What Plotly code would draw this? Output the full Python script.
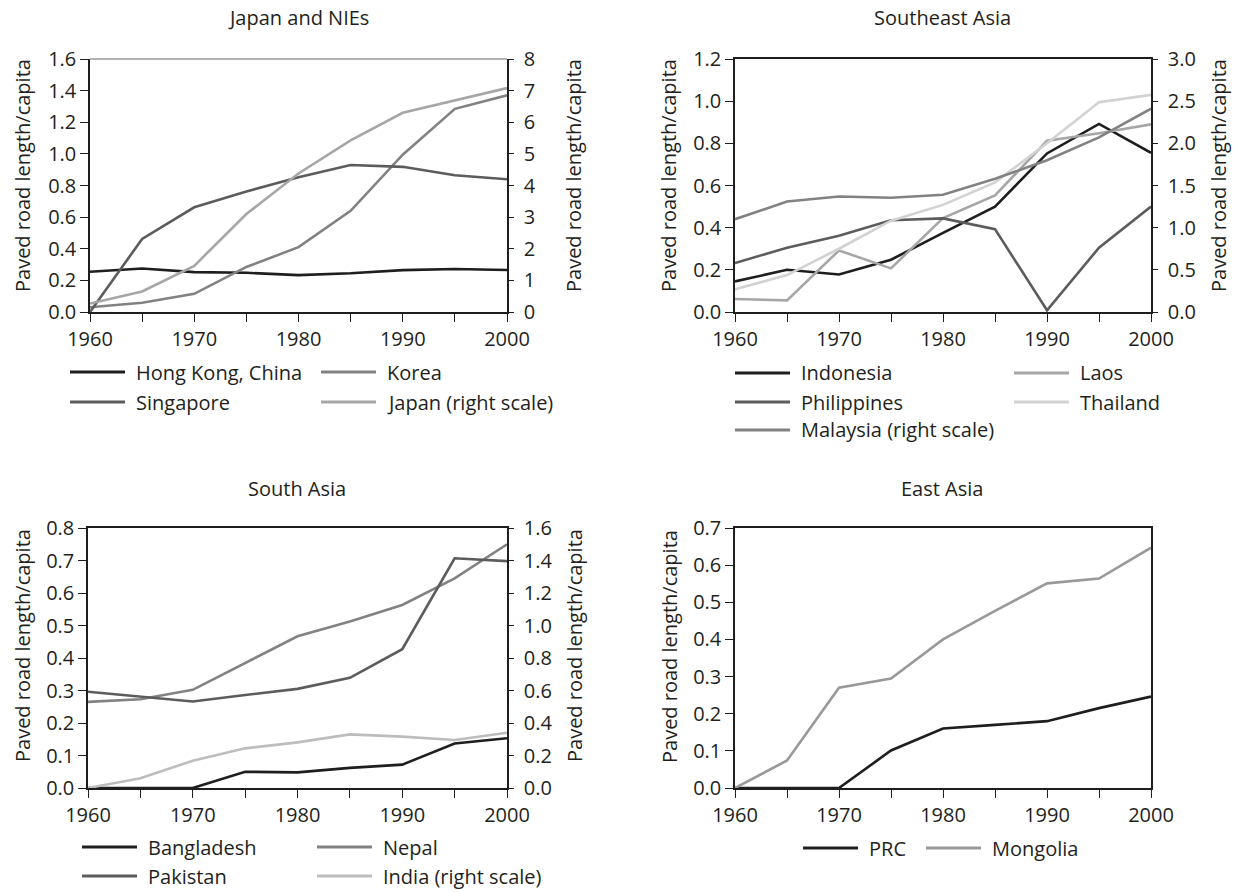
import plotly.graph_objects as go

years = [1960, 1965, 1970, 1975, 1980, 1985, 1990, 1995, 2000]
x_tickvals = [1960, 1965, 1970, 1975, 1980, 1985, 1990, 1995, 2000]
x_ticktext = ["1960", "", "1970", "", "1980", "", "1990", "", "2000"]

# Japan and NIEs
hong_kong = [0.255, 0.275, 0.252, 0.248, 0.233, 0.245, 0.265, 0.272, 0.266]
korea = [0.03, 0.058, 0.115, 0.285, 0.41, 0.64, 0.995, 1.285, 1.37]
singapore = [0.0, 0.462, 0.662, 0.762, 0.852, 0.93, 0.918, 0.865, 0.84]
japan = [0.27, 0.65, 1.46, 3.1, 4.38, 5.43, 6.3, 6.68, 7.08]

# Southeast Asia
indonesia = [0.145, 0.2, 0.178, 0.248, 0.375, 0.5, 0.752, 0.892, 0.755]
philippines = [0.232, 0.305, 0.362, 0.435, 0.444, 0.393, 0.008, 0.305, 0.5]
malaysia = [1.1, 1.31, 1.37, 1.355, 1.39, 1.58, 1.8, 2.07, 2.41]
laos = [0.062, 0.055, 0.292, 0.207, 0.445, 0.553, 0.812, 0.848, 0.89]
thailand = [0.108, 0.175, 0.3, 0.433, 0.508, 0.615, 0.8, 0.995, 1.03]

# South Asia
bangladesh = [0.0, 0.0, 0.0, 0.05, 0.048, 0.062, 0.072, 0.137, 0.153]
pakistan = [0.296, 0.281, 0.266, 0.286, 0.305, 0.339, 0.427, 0.707, 0.698]
nepal = [0.265, 0.273, 0.302, 0.384, 0.467, 0.512, 0.563, 0.645, 0.75]
india = [0.0, 0.06, 0.168, 0.244, 0.281, 0.33, 0.316, 0.295, 0.34]

# East Asia
prc = [0.0, 0.0, 0.0, 0.101, 0.16, 0.17, 0.18, 0.215, 0.246]
mongolia = [0.0, 0.074, 0.27, 0.295, 0.4, 0.477, 0.551, 0.564, 0.647]

FONT = "Open Sans"
TXT = "#231f20"
BLACK = "#1e1e1e"
DARK = "#5c5c5c"
MID = "#828282"
LIGHT = "#a6a6a6"
VLIGHT = "#d2d2d2"
INDIA_C = "#bdbdbd"
MONG = "#999999"
LW = 2.6
W, H = 1238, 892
YTITLE = "Paved road length/capita"
FS = 20


def px_x(a, b):
    return [a / W, b / W]


def px_y(top, bottom):
    return [1 - bottom / H, 1 - top / H]


fig = go.Figure()

# (name, values, color, xaxis, yaxis, legend key start x, legend row y)
series = [
    ("Hong Kong, China", hong_kong, BLACK, "x", "y", 70, 372),
    ("Korea", korea, MID, "x", "y", 321, 372),
    ("Singapore", singapore, DARK, "x", "y", 70, 402),
    ("Japan (right scale)", japan, LIGHT, "x", "y2", 321, 402),
    ("Indonesia", indonesia, BLACK, "x2", "y3", 735, 373),
    ("Laos", laos, LIGHT, "x2", "y3", 1014, 373),
    ("Philippines", philippines, DARK, "x2", "y3", 735, 402),
    ("Thailand", thailand, VLIGHT, "x2", "y3", 1014, 402),
    ("Malaysia (right scale)", malaysia, MID, "x2", "y4", 735, 430),
    ("Bangladesh", bangladesh, BLACK, "x3", "y5", 82, 847),
    ("Nepal", nepal, MID, "x3", "y5", 317, 847),
    ("Pakistan", pakistan, DARK, "x3", "y5", 82, 876),
    ("India (right scale)", india, INDIA_C, "x3", "y6", 317, 876),
    ("PRC", prc, BLACK, "x4", "y7", 803, 848),
    ("Mongolia", mongolia, MONG, "x4", "y7", 926, 848),
]

for name, vals, color, xa, ya, lx, ly in series:
    fig.add_trace(go.Scatter(x=years, y=vals, name=name, mode="lines",
                             line=dict(color=color, width=LW),
                             xaxis=xa, yaxis=ya, showlegend=False,
                             hoverinfo="x+y+name"))
    # legend key + label
    fig.add_shape(type="line", xref="paper", yref="paper",
                  x0=lx / W, x1=(lx + 55) / W, y0=1 - ly / H, y1=1 - ly / H,
                  line=dict(color=color, width=LW + 0.4))
    fig.add_annotation(text=name, x=(lx + 64) / W, y=1 - ly / H, xref="paper", yref="paper",
                       showarrow=False, xanchor="left", yanchor="middle",
                       font=dict(family=FONT, size=FS, color=TXT))

xcommon = dict(range=[1960, 2000], tickvals=x_tickvals, ticktext=x_ticktext,
               ticks="outside", ticklen=8, tickwidth=1.3, tickcolor=BLACK,
               showline=True, linecolor=BLACK, linewidth=1.5, automargin=False,
               showgrid=False, zeroline=False, fixedrange=True)
ycommon = dict(ticks="outside", ticklen=8, tickwidth=1.3, tickcolor=BLACK,
               showline=True, linecolor=BLACK, linewidth=1.5, automargin=False,
               showgrid=False, zeroline=False, fixedrange=True)
yright = dict(ycommon, ticklen=5, ticklabelstandoff=6)

top_y = px_y(59, 312)
bot_y = px_y(528, 788)
left_x = px_x(90, 507)
left_x_b = px_x(88, 507)
right_x = px_x(735, 1151)

fig.update_layout(
    width=W, height=H,
    margin=dict(l=0, r=0, t=0, b=0),
    paper_bgcolor="white", plot_bgcolor="white",
    font=dict(family=FONT, size=FS, color=TXT),
    showlegend=False,
    xaxis=dict(domain=left_x, anchor="y", **xcommon),
    yaxis=dict(domain=top_y, anchor="x", range=[0, 1.6], dtick=0.2, tickformat=".1f", **ycommon),
    yaxis2=dict(overlaying="y", side="right", anchor="x", range=[0, 8], dtick=1, **yright),
    xaxis2=dict(domain=right_x, anchor="y3", mirror=True, **xcommon),
    yaxis3=dict(domain=top_y, anchor="x2", range=[0, 1.2], dtick=0.2, tickformat=".1f", **ycommon),
    yaxis4=dict(overlaying="y3", side="right", anchor="x2", range=[0, 3], dtick=0.5,
                tickformat=".1f", **yright),
    xaxis3=dict(domain=left_x_b, anchor="y5", mirror=True, **xcommon),
    yaxis5=dict(domain=bot_y, anchor="x3", range=[0, 0.8], dtick=0.1, tickformat=".1f", **ycommon),
    yaxis6=dict(overlaying="y5", side="right", anchor="x3", range=[0, 1.6], dtick=0.2,
                tickformat=".1f", **yright),
    xaxis4=dict(domain=right_x, anchor="y7", mirror=True, **xcommon),
    yaxis7=dict(domain=bot_y, anchor="x4", range=[0, 0.7], dtick=0.1, tickformat=".1f",
                mirror=True, **ycommon),
)

# Gray top border of the first panel
fig.add_shape(type="line", xref="x domain", yref="y domain", x0=0, x1=1, y0=1, y1=1,
              line=dict(color="#9a9a9a", width=1.5))

# Panel titles
titles = [("Japan and NIEs", 298, 18), ("Southeast Asia", 942, 18),
          ("South Asia", 297, 488), ("East Asia", 942, 488)]
for text, cx, cy in titles:
    fig.add_annotation(text=text, x=cx / W, y=1 - cy / H, xref="paper", yref="paper",
                       showarrow=False, xanchor="center", yanchor="middle",
                       font=dict(family=FONT, size=FS, color=TXT))

# Y-axis titles
ytitles = [(22, 176), (573, 176), (668, 176), (1218, 176),
           (22, 646), (574, 646), (669, 647)]
for cx, cy in ytitles:
    fig.add_annotation(text=YTITLE, x=cx / W, y=1 - cy / H, xref="paper", yref="paper",
                       showarrow=False, xanchor="center", yanchor="middle", textangle=-90,
                       font=dict(family=FONT, size=FS, color=TXT))

fig.write_html("out.html",
               config={"displayModeBar": False},
               post_script="document.body.style.margin='0';document.body.style.overflow='hidden';")
